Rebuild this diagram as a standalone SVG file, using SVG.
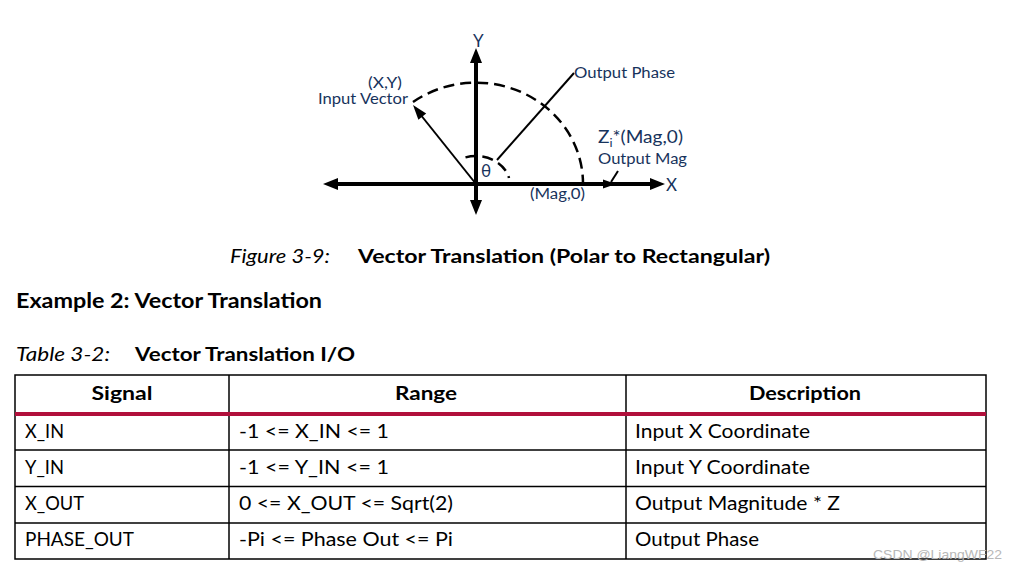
<svg xmlns="http://www.w3.org/2000/svg" width="1016" height="571" viewBox="0 0 1016 571">
<style>
.dg{font-family:Lato,"Liberation Sans",sans-serif;font-size:15.5px;fill:#17335c}
.ax{stroke:#000;stroke-width:4;fill:none}
.thin{stroke:#000;stroke-width:2;fill:none}
.dash{stroke:#000;stroke-width:2.5;fill:none;stroke-dasharray:11 6}
.head{fill:#000}
.cap{font-family:Lato,"Liberation Sans",sans-serif;font-size:19px;fill:#000}
.it{font-style:italic;font-weight:normal}
.bd{font-weight:bold}
.cell{font-family:Lato,"Liberation Sans",sans-serif;font-size:18.5px;fill:#000}
.hd{font-family:Lato,"Liberation Sans",sans-serif;font-size:19.5px;font-weight:bold;fill:#000}
.grid{stroke:#000;stroke-width:1.5;fill:none}
</style>
<rect width="1016" height="571" fill="#fff"/>

<g id="diagram">
  <g id="axes">
    <line class="ax" x1="336" y1="184" x2="652" y2="184"/>
    <line class="ax" x1="476" y1="61" x2="476" y2="202"/>
    <polygon class="head" points="323,184 338,178 338,190"/>
    <polygon class="head" points="665,184 650,178 650,190"/>
    <polygon class="head" points="476,48 470,63 482,63"/>
    <polygon class="head" points="476,215 470,200 482,200"/>
    <polygon class="head" points="616,184 603,179.5 603,188.5"/>
  </g>
  <g id="connectors">
    <line class="thin" x1="476" y1="184" x2="420" y2="114"/>
    <polygon class="head" points="413,105 426.2,113.6 418.4,119.8"/>
    <line class="thin" x1="497" y1="160" x2="574" y2="73"/>
    <path class="dash" d="M 413 102 A 107 101 0 0 1 583 184"/>
    <path class="dash" d="M 465.5 157.4 A 34 28 0 0 1 509 178"/>
    <line class="thin" x1="618" y1="171" x2="611" y2="182"/>
  </g>
  <g id="labels">
    <text class="dg" x="473" y="47" style="font-size:17px">Y</text>
    <text class="dg" x="666" y="191" style="font-size:17px">X</text>
    <text class="dg" x="368" y="88" textLength="34" lengthAdjust="spacingAndGlyphs">(X,Y)</text>
    <text class="dg" x="318" y="104" textLength="90" lengthAdjust="spacingAndGlyphs">Input Vector</text>
    <text class="dg" x="574" y="78" textLength="101" lengthAdjust="spacingAndGlyphs">Output Phase</text>
    <text class="dg" x="481" y="177" style="font-size:17px">θ</text>
    <text class="dg" x="598" y="143" style="font-size:16.5px" textLength="85" lengthAdjust="spacingAndGlyphs">Z<tspan style="font-size:11px" dy="3.5">i</tspan><tspan dy="-3.5">*(Mag,0)</tspan></text>
    <text class="dg" x="598" y="163.5" textLength="89" lengthAdjust="spacingAndGlyphs">Output Mag</text>
    <text class="dg" x="530" y="199" textLength="55" lengthAdjust="spacingAndGlyphs">(Mag,0)</text>
  </g>
</g>

<g id="captions">
  <text class="cap it" x="230" y="263" textLength="100" lengthAdjust="spacingAndGlyphs">Figure 3-9:</text>
  <text class="cap bd" x="358" y="263" textLength="412" lengthAdjust="spacingAndGlyphs">Vector Translation (Polar to Rectangular)</text>
  <text class="cap bd" x="16" y="308" style="font-size:20.5px" textLength="306" lengthAdjust="spacingAndGlyphs">Example 2: Vector Translation</text>
  <text class="cap it" x="16" y="361" textLength="94" lengthAdjust="spacingAndGlyphs">Table 3-2:</text>
  <text class="cap bd" x="135" y="361" textLength="220" lengthAdjust="spacingAndGlyphs">Vector Translation I/O</text>
</g>

<g id="table">
  <rect class="grid" x="15" y="375" width="971" height="184"/>
  <line class="grid" x1="229" y1="375" x2="229" y2="559"/>
  <line class="grid" x1="626" y1="375" x2="626" y2="559"/>
  <line class="grid" x1="15" y1="450" x2="986" y2="450"/>
  <line class="grid" x1="15" y1="486.5" x2="986" y2="486.5"/>
  <line class="grid" x1="15" y1="523" x2="986" y2="523"/>
  <rect x="15" y="412" width="971" height="4" fill="#b1103b"/>

  <text class="hd" x="122" y="400" text-anchor="middle" textLength="61" lengthAdjust="spacingAndGlyphs">Signal</text>
  <text class="hd" x="426" y="400" text-anchor="middle" textLength="62" lengthAdjust="spacingAndGlyphs">Range</text>
  <text class="hd" x="805" y="400" text-anchor="middle" textLength="112" lengthAdjust="spacingAndGlyphs">Description</text>

  <text class="cell" x="25" y="438" textLength="39" lengthAdjust="spacingAndGlyphs">X_IN</text>
  <text class="cell" x="239" y="438" textLength="150" lengthAdjust="spacingAndGlyphs">-1 &lt;= X_IN &lt;= 1</text>
  <text class="cell" x="635" y="438" textLength="175" lengthAdjust="spacingAndGlyphs">Input X Coordinate</text>

  <text class="cell" x="25" y="474" textLength="39" lengthAdjust="spacingAndGlyphs">Y_IN</text>
  <text class="cell" x="239" y="474" textLength="150" lengthAdjust="spacingAndGlyphs">-1 &lt;= Y_IN &lt;= 1</text>
  <text class="cell" x="635" y="474" textLength="175" lengthAdjust="spacingAndGlyphs">Input Y Coordinate</text>

  <text class="cell" x="25" y="510" textLength="59" lengthAdjust="spacingAndGlyphs">X_OUT</text>
  <text class="cell" x="239" y="510" textLength="214" lengthAdjust="spacingAndGlyphs">0 &lt;= X_OUT &lt;= Sqrt(2)</text>
  <text class="cell" x="635" y="510" textLength="205" lengthAdjust="spacingAndGlyphs">Output Magnitude * Z</text>

  <text class="cell" x="25" y="546" textLength="109" lengthAdjust="spacingAndGlyphs">PHASE_OUT</text>
  <text class="cell" x="239" y="546" textLength="214" lengthAdjust="spacingAndGlyphs">-Pi &lt;= Phase Out &lt;= Pi</text>
  <text class="cell" x="635" y="546" textLength="124" lengthAdjust="spacingAndGlyphs">Output Phase</text>
</g>

<text x="873" y="559" font-family="'Liberation Sans Narrow','Liberation Sans',sans-serif" font-size="13" fill="#b8b8b8" textLength="129" lengthAdjust="spacingAndGlyphs">CSDN @LiangWF22</text>
</svg>
